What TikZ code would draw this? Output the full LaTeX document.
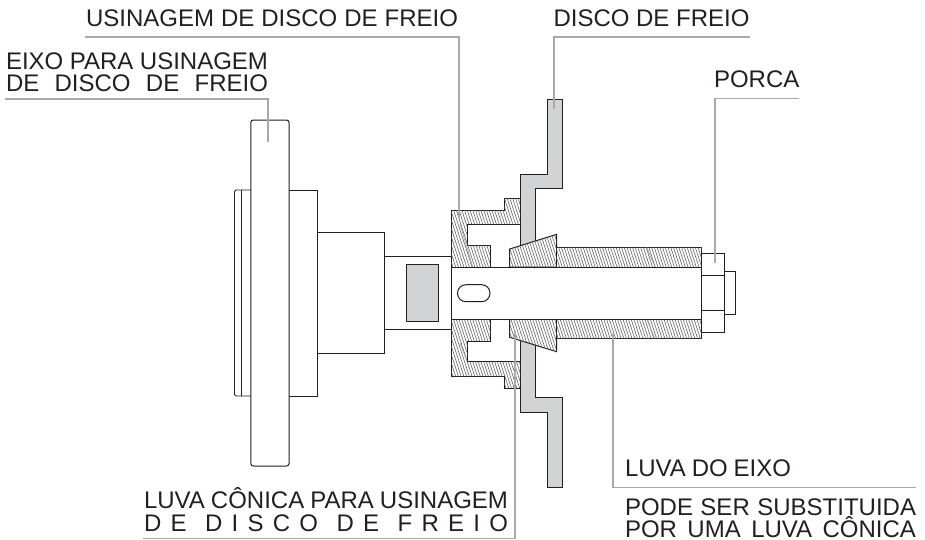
\documentclass[tikz,border=0pt]{standalone}
\usepackage{fontspec}
\setmainfont{Liberation Sans}
\usetikzlibrary{patterns.meta}
\definecolor{ink}{HTML}{231F20}
\definecolor{leader}{HTML}{A7A9AC}
\definecolor{plate}{HTML}{D1D3D4}
\tikzset{
  part/.style={draw=ink,line width=1pt,line join=miter},
  thinpart/.style={draw=ink,line width=.75pt},
  cut/.style={part,preaction={fill=white},postaction={pattern={Lines[angle=-72,distance=2.6pt,line width=.55pt]},pattern color=ink!75}},
  solidplate/.style={part,fill=plate},
  seam/.style={draw=ink!45,line width=.6pt},
  lead/.style={draw=leader,line width=1.2pt,line join=miter},
  lbl/.style={anchor=base west,inner sep=0pt,outer sep=0pt,text=ink,font=\fontsize{24}{24}\selectfont}
}
\begin{document}
\begin{tikzpicture}[x=1pt,y=-1pt]
\useasboundingbox (0,0) rectangle (925,539);
% body of the arbor
\draw[thinpart,rounded corners=1.5pt] (251,190) -- (234.5,190) -- (234.5,396) -- (251,396);
\draw[part] (241,190) -- (241,396);
\draw[part] (289,190) -- (317.7,190) -- (317.7,396) -- (289,396);
\draw[part] (317.7,232.7) -- (384.5,232.7) -- (384.5,353.3) -- (317.7,353.3);
\draw[part] (384.5,256.7) -- (451.7,256.7);
\draw[part] (384.5,329.3) -- (451.7,329.3);
\draw[part,rounded corners=2.5pt] (250.8,120) rectangle (289,466);
\draw[solidplate] (406,264.7) rectangle (438,321);
% brake disc
\draw[solidplate] (547,99.3) -- (562.7,99.3) -- (562.7,188.5) -- (535,188.5) -- (535,397) -- (562.7,397) -- (562.7,487) -- (547,487) -- (547,412) -- (520.5,412) -- (520.5,174) -- (547,174) -- cycle;
% machining adapter
\draw[cut] (451.7,210) -- (504.7,210) -- (504.7,198) -- (520.7,198) -- (520.7,224) -- (467.3,224) -- (467.3,245) -- (490.7,245) -- (490.7,267) -- (451.7,267) -- cycle;
\draw[cut] (451.7,319) -- (490.7,319) -- (490.7,341) -- (467.3,341) -- (467.3,361.7) -- (520.7,361.7) -- (520.7,388) -- (504.7,388) -- (504.7,376.7) -- (451.7,376.7) -- cycle;
% cones
\draw[cut] (509.7,249) -- (556.7,234.3) -- (556.7,267) -- (509.7,267) -- cycle;
\draw[cut] (509.7,337.3) -- (556.7,351.7) -- (556.7,319) -- (509.7,319) -- cycle;
% sleeve
\draw[cut] (556.7,247.3) -- (701.7,247.3) -- (701.7,267) -- (556.7,267) -- cycle;
\draw[cut] (556.7,319) -- (701.7,319) -- (701.7,338.7) -- (556.7,338.7) -- cycle;
% seams in the hatching
\draw[seam] (460,224) -- (472.7,267);
\draw[seam] (460,343) -- (467,361);
\draw[seam] (646.7,247.3) -- (655,267);
\draw[seam] (646.7,319) -- (655,338.7);
% bore and slot
\draw[part,fill=white] (451.7,267) rectangle (701.7,319);
\draw[part,rounded corners=8.4pt] (457.5,284.7) rectangle (490,301.7);
% nut and stud end
\draw[thinpart] (724.7,271.7) -- (735,271.7) -- (735,314.7) -- (724.7,314.7);
\draw[part] (701.7,253.7) -- (724.5,253.7) -- (724.5,332.3) -- (701.7,332.3) -- cycle;
\draw[part] (701.7,275.7) -- (724.5,275.7);
\draw[part] (701.7,310.3) -- (724.5,310.3);
% labels
\node[lbl] (usinagem) at (86,26) {\makebox[372pt][s]{USINAGEM DE DISCO DE FREIO}};
\node[lbl] (eixoa) at (6,69) {\makebox[262pt][s]{EIXO PARA USINAGEM}};
\node[lbl] (eixob) at (6,91.7) {\makebox[262pt][s]{DE DISCO DE FREIO}};
\node[lbl] (disco) at (553.5,26) {\makebox[196pt][s]{DISCO DE FREIO}};
\node[lbl] (porca) at (714,87) {PORCA};
\node[lbl] (conicaa) at (144,508) {\makebox[364pt][s]{LUVA CÔNICA PARA USINAGEM}};
\node[lbl] (conicab) at (144,531.7) {\makebox[364pt][l]{D\hfill E\hfill\hfill D\hfill I\hfill S\hfill C\hfill O\hfill\hfill D\hfill E\hfill\hfill F\hfill R\hfill E\hfill I\hfill O}};
\node[lbl] (luva) at (625,476) {\makebox[166pt][s]{LUVA DO EIXO}};
\node[lbl] (podea) at (625,515) {\makebox[291pt][s]{PODE SER SUBSTITUIDA}};
\node[lbl] (podeb) at (625,537) {\makebox[291pt][s]{POR UMA LUVA CÔNICA}};
% leaders
\coordinate (lu0) at (85,37); \coordinate (lu1) at (459,218);
\coordinate (le0) at (5,99); \coordinate (le1) at (268,142);
\coordinate (ld0) at (750,37); \coordinate (ld1) at (554,109);
\coordinate (lp0) at (799,98.7); \coordinate (lp1) at (715,263);
\coordinate (lc0) at (143,538.4); \coordinate (lc1) at (515,331.5);
\coordinate (ll0) at (916,487.3); \coordinate (ll1) at (613,334);
\draw[lead] (lu0) -| (lu1);
\draw[lead] (le0) -| (le1);
\draw[lead] (ld0) -| (ld1);
\draw[lead] (lp0) -| (lp1);
\draw[lead] (lc0) -| (lc1);
\draw[lead] (ll0) -| (ll1);
\end{tikzpicture}
\end{document}
